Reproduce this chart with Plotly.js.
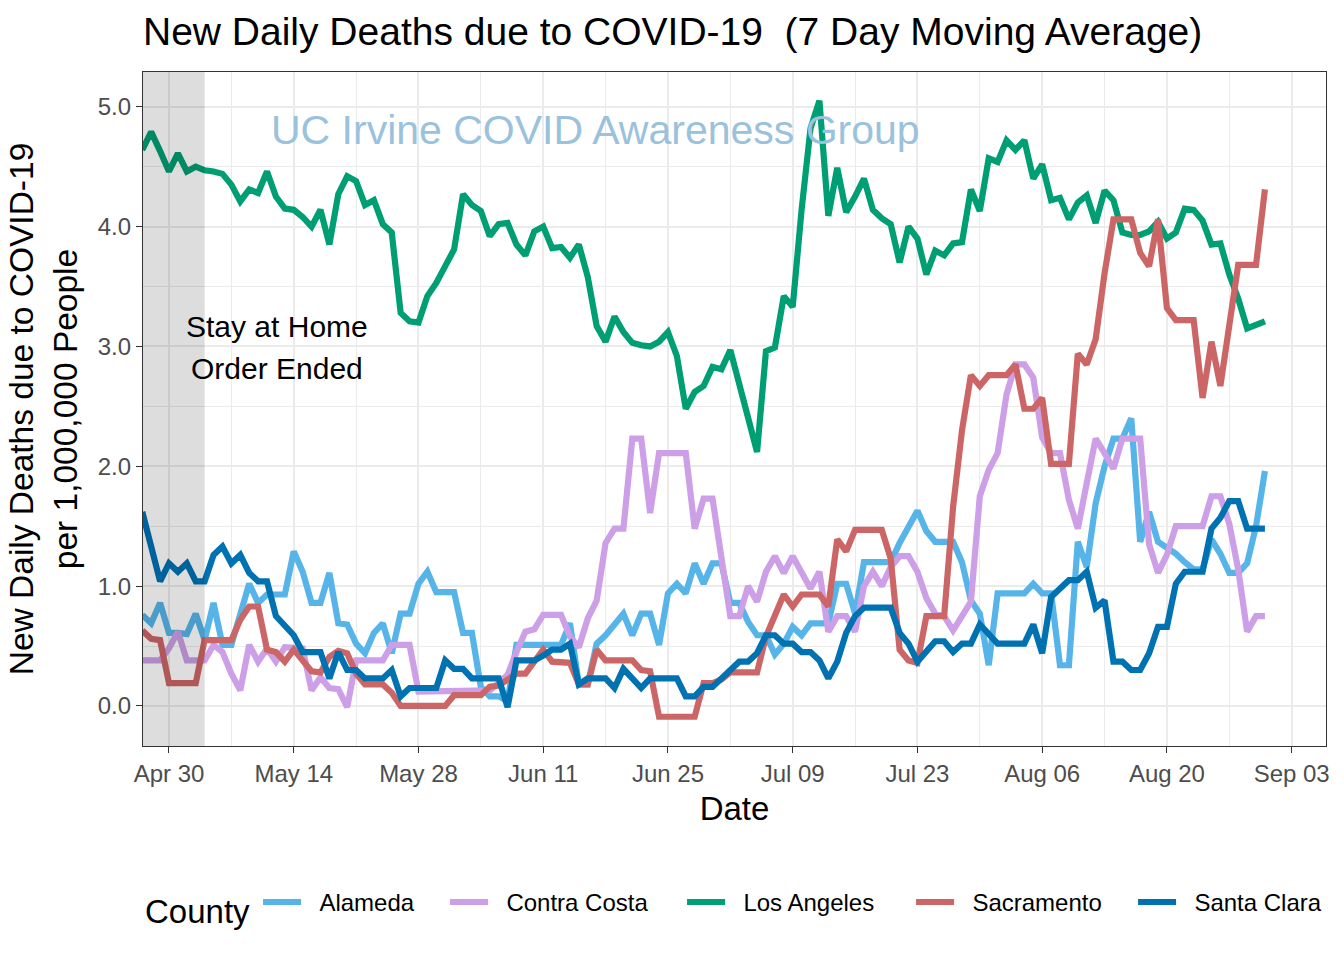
<!DOCTYPE html>
<html>
<head>
<meta charset="utf-8">
<script src="https://cdn.plot.ly/plotly-3.0.1.min.js"></script>
<style>html,body{margin:0;padding:0;background:#fff;}#chart{width:1344px;height:960px;}</style>
</head>
<body>
<div id="chart"></div>
<script>
// ---- data (7-day moving average of new daily deaths per 1,000,000 people) ----
const startDate = '2020-04-27';
const nDays = 127;

const counties = ['Alameda', 'Contra Costa', 'Los Angeles', 'Sacramento', 'Santa Clara'];
const countyColors = ['#56B4E9', '#CC9FE6', '#009E73', '#CC6666', '#0072B2'];

const alameda = [
  0.76, 0.69, 0.86, 0.61, 0.61, 0.60, 0.77, 0.55, 0.86, 0.51,
  0.51, 0.77, 1.02, 0.86, 0.93, 0.93, 0.93, 1.29, 1.12, 0.86,
  0.86, 1.11, 0.69, 0.68, 0.52, 0.44, 0.61, 0.69, 0.44, 0.77,
  0.77, 1.02, 1.12, 0.95, 0.95, 0.95, 0.61, 0.61, 0.16, 0.08,
  0.08, 0.04, 0.51, 0.51, 0.51, 0.51, 0.51, 0.51, 0.69, 0.18,
  0.18, 0.52, 0.59, 0.69, 0.77, 0.59, 0.77, 0.77, 0.51, 0.94,
  1.02, 0.94, 1.19, 1.02, 1.19, 1.19, 0.86, 0.86, 0.70, 0.59,
  0.59, 0.43, 0.52, 0.66, 0.59, 0.69, 0.69, 0.69, 1.02, 1.02,
  0.77, 1.20, 1.20, 1.20, 1.20, 1.36, 1.50, 1.63, 1.46, 1.37,
  1.37, 1.37, 1.20, 0.88, 0.77, 0.34, 0.94, 0.94, 0.94, 0.94,
  1.02, 0.94, 0.94, 0.34, 0.34, 1.37, 1.16, 1.69, 2.00, 2.23,
  2.23, 2.40, 1.37, 1.62, 1.37, 1.32, 1.27, 1.20, 1.14, 1.14,
  1.39, 1.27, 1.11, 1.11, 1.19, 1.50, 1.96
];

const contraCosta = [
  0.38, 0.38, 0.38, 0.48, 0.62, 0.38, 0.38, 0.38, 0.51, 0.45,
  0.27, 0.13, 0.51, 0.37, 0.48, 0.37, 0.49, 0.49, 0.48, 0.13,
  0.24, 0.15, 0.14, -0.01, 0.38, 0.38, 0.38, 0.38, 0.51, 0.51,
  0.51, 0.12, 0.12, 0.12, 0.12, 0.12, 0.12, 0.12, 0.12, 0.13,
  0.19, 0.26, 0.45, 0.62, 0.64, 0.76, 0.76, 0.76, 0.58, 0.49,
  0.73, 0.88, 1.36, 1.48, 1.48, 2.23, 2.23, 1.61, 2.11, 2.11,
  2.11, 2.11, 1.48, 1.73, 1.73, 1.25, 0.75, 0.75, 1.00, 0.87,
  1.12, 1.25, 1.11, 1.25, 1.11, 0.98, 1.12, 0.62, 0.75, 0.75,
  0.62, 1.00, 1.12, 1.00, 1.16, 1.25, 1.25, 1.12, 0.90, 0.77,
  0.75, 0.63, 0.75, 0.87, 1.75, 1.97, 2.11, 2.60, 2.85, 2.85,
  2.74, 2.24, 2.11, 2.11, 1.72, 1.48, 1.86, 2.23, 2.11, 1.98,
  2.23, 2.23, 2.23, 1.35, 1.11, 1.26, 1.50, 1.50, 1.50, 1.50,
  1.75, 1.75, 1.52, 1.14, 0.62, 0.75, 0.75
];

const losAngeles = [
  4.64, 4.79, 4.63, 4.46, 4.61, 4.46, 4.50, 4.47, 4.46, 4.44,
  4.35, 4.21, 4.31, 4.28, 4.46, 4.25, 4.15, 4.14, 4.08, 4.00,
  4.14, 3.85, 4.27, 4.42, 4.38, 4.18, 4.22, 4.02, 3.95, 3.28,
  3.21, 3.20, 3.42, 3.53, 3.67, 3.81, 4.27, 4.18, 4.13, 3.92,
  4.02, 4.03, 3.85, 3.76, 3.96, 4.00, 3.82, 3.83, 3.74, 3.85,
  3.58, 3.17, 3.04, 3.25, 3.12, 3.03, 3.01, 3.00, 3.04, 3.12,
  2.92, 2.48, 2.62, 2.67, 2.83, 2.81, 2.97, 2.68, 2.40, 2.12,
  2.96, 2.99, 3.42, 3.33, 4.14, 4.82, 5.05, 4.09, 4.49, 4.12,
  4.25, 4.40, 4.14, 4.07, 4.02, 3.70, 4.00, 3.90, 3.60, 3.80,
  3.76, 3.86, 3.87, 4.31, 4.13, 4.57, 4.54, 4.72, 4.64, 4.72,
  4.40, 4.52, 4.22, 4.24, 4.06, 4.20, 4.26, 4.03, 4.30, 4.22,
  3.95, 3.93, 3.93, 3.96, 4.04, 3.90, 3.95, 4.15, 4.14, 4.05,
  3.85, 3.86, 3.60, 3.40, 3.15, 3.18, 3.21
];

const sacramento = [
  0.63, 0.56, 0.55, 0.19, 0.19, 0.19, 0.19, 0.55, 0.55, 0.55,
  0.55, 0.72, 0.83, 0.83, 0.47, 0.45, 0.37, 0.47, 0.38, 0.29,
  0.28, 0.41, 0.46, 0.44, 0.27, 0.18, 0.18, 0.18, 0.11, 0.00,
  0.00, 0.00, 0.00, 0.00, 0.00, 0.09, 0.09, 0.09, 0.09, 0.16,
  0.17, 0.22, 0.27, 0.27, 0.36, 0.47, 0.37, 0.37, 0.36, 0.18,
  0.18, 0.47, 0.38, 0.38, 0.38, 0.38, 0.30, 0.29, -0.09, -0.09,
  -0.09, -0.09, -0.09, 0.19, 0.19, 0.22, 0.28, 0.28, 0.28, 0.28,
  0.58, 0.77, 0.93, 0.83, 0.93, 0.93, 0.93, 0.83, 1.39, 1.29,
  1.47, 1.47, 1.47, 1.47, 1.23, 0.47, 0.38, 0.36, 0.75, 0.75,
  0.75, 1.66, 2.30, 2.76, 2.67, 2.76, 2.76, 2.76, 2.85, 2.48,
  2.48, 2.57, 2.02, 2.02, 2.02, 2.94, 2.85, 3.06, 3.61, 4.06,
  4.06, 4.06, 3.78, 3.67, 4.06, 3.32, 3.22, 3.22, 3.22, 2.57,
  3.04, 2.67, 3.19, 3.68, 3.68, 3.68, 4.31
];

const santaClara = [
  1.62, 1.33, 1.04, 1.19, 1.12, 1.19, 1.04, 1.04, 1.26, 1.33,
  1.19, 1.26, 1.11, 1.04, 1.04, 0.75, 0.66, 0.59, 0.45, 0.45,
  0.45, 0.23, 0.45, 0.30, 0.30, 0.23, 0.23, 0.23, 0.30, 0.08,
  0.15, 0.15, 0.15, 0.15, 0.38, 0.31, 0.31, 0.23, 0.23, 0.23,
  0.23, -0.01, 0.38, 0.38, 0.38, 0.42, 0.47, 0.47, 0.52, 0.18,
  0.23, 0.23, 0.23, 0.15, 0.31, 0.23, 0.15, 0.23, 0.23, 0.23,
  0.23, 0.08, 0.08, 0.16, 0.16, 0.23, 0.30, 0.37, 0.37, 0.44,
  0.59, 0.59, 0.52, 0.52, 0.45, 0.45, 0.38, 0.23, 0.37, 0.61,
  0.75, 0.82, 0.82, 0.82, 0.82, 0.61, 0.52, 0.37, 0.45, 0.54,
  0.54, 0.45, 0.52, 0.52, 0.68, 0.59, 0.52, 0.52, 0.52, 0.52,
  0.68, 0.44, 0.91, 0.98, 1.05, 1.05, 1.12, 0.82, 0.88, 0.37,
  0.37, 0.30, 0.30, 0.44, 0.66, 0.66, 1.02, 1.12, 1.12, 1.12,
  1.48, 1.57, 1.71, 1.71, 1.48, 1.48, 1.48
];

const seriesValues = [alameda, contraCosta, losAngeles, sacramento, santaClara];

// dates (one per day starting at startDate)
const dates = [];
{
  const d0 = new Date(startDate + 'T00:00:00Z');
  for (let i = 0; i < nDays; i++) {
    const d = new Date(d0.getTime() + i * 86400000);
    dates.push(d.toISOString().slice(0, 10));
  }
}

const orderEndDate = '2020-05-04';
const xRange = ['2020-04-27 02:00', '2020-09-06 20:30'];
const yRange = [-0.334, 5.29];

const FONT = 'Liberation Sans, Arial, Helvetica, sans-serif';
const legendWidths = [134, 184, 176, 169, 150];
const NB = '\u00a0\u00a0';

const traces = counties.map((name, i) => ({
  type: 'scatter',
  mode: 'lines',
  name: NB + name,
  x: dates,
  y: seriesValues[i],
  line: { color: countyColors[i], width: 6.2 },
  legendwidth: legendWidths[i],
  hovertemplate: name + ': %{y:.2f}<extra></extra>'
}));

const axisCommon = {
  showline: true,
  mirror: true,
  linecolor: '#333333',
  linewidth: 1.1,
  ticks: 'outside',
  ticklen: 6,
  tickwidth: 1.1,
  tickcolor: '#333333',
  tickfont: { family: FONT, size: 24, color: '#4D4D4D' },
  showgrid: true,
  gridcolor: '#EBEBEB',
  gridwidth: 2,
  zeroline: false
};

const layout = {
  width: 1344,
  height: 960,
  margin: { l: 143, r: 18, t: 72, b: 214 },
  paper_bgcolor: '#FFFFFF',
  plot_bgcolor: '#FFFFFF',
  font: { family: FONT, color: '#000000' },
  title: {
    text: 'New Daily Deaths due to COVID-19 \u00a0(7 Day Moving Average)',
    font: { family: FONT, size: 39, color: '#000000' },
    xref: 'paper', x: 0, xanchor: 'left',
    yref: 'container', y: 1 - 31 / 960, yanchor: 'middle'
  },
  xaxis: Object.assign({}, axisCommon, {
    type: 'date',
    range: xRange,
    tick0: '2020-04-30',
    dtick: 14 * 86400000,
    tickformat: '%b %d',
    minor: { tick0: '2020-04-30', dtick: 7 * 86400000, showgrid: true, gridcolor: '#EBEBEB', gridwidth: 1, ticks: '' },
    title: { text: 'Date', font: { family: FONT, size: 33, color: '#000000' }, standoff: 11 }
  }),
  yaxis: Object.assign({}, axisCommon, {
    range: yRange,
    tick0: 0,
    dtick: 1,
    tickformat: '.1f',
    minor: { tick0: 0, dtick: 0.5, showgrid: true, gridcolor: '#EBEBEB', gridwidth: 1, ticks: '' },
    title: { text: 'New Daily Deaths due to COVID-19<br>per 1,000,000 People', font: { family: FONT, size: 33.5, color: '#000000' }, standoff: 10 }
  }),
  shapes: [{
    type: 'rect', xref: 'x', yref: 'y',
    x0: xRange[0], x1: orderEndDate, y0: yRange[0], y1: yRange[1],
    fillcolor: 'rgba(0,0,0,0.135)', line: { width: 0 }, layer: 'above'
  }],
  annotations: [
    { xref: 'x', yref: 'y', x: '2020-06-16 21:00', y: 4.81, text: 'UC Irvine COVID Awareness Group',
      showarrow: false, font: { family: FONT, size: 41, color: '#9AC2DD' } },
    { xref: 'x', yref: 'y', x: '2020-05-12 03:00', y: 3.164, text: 'Stay at Home',
      showarrow: false, font: { family: FONT, size: 30, color: '#000000' } },
    { xref: 'x', yref: 'y', x: '2020-05-12 03:00', y: 2.813, text: 'Order Ended',
      showarrow: false, font: { family: FONT, size: 30, color: '#000000' } }
  ],
  showlegend: true,
  legend: {
    orientation: 'h',
    x: 0.0, xanchor: 'left',
    y: -0.238, yanchor: 'middle',
    font: { family: FONT, size: 24, color: '#000000' },
    title: { text: 'County', side: 'left', font: { family: FONT, size: 33, color: '#000000' } },
    itemwidth: 38,
    bgcolor: 'rgba(0,0,0,0)'
  }
};

Plotly.newPlot('chart', traces, layout, { displayModeBar: false });
</script>
</body>
</html>
